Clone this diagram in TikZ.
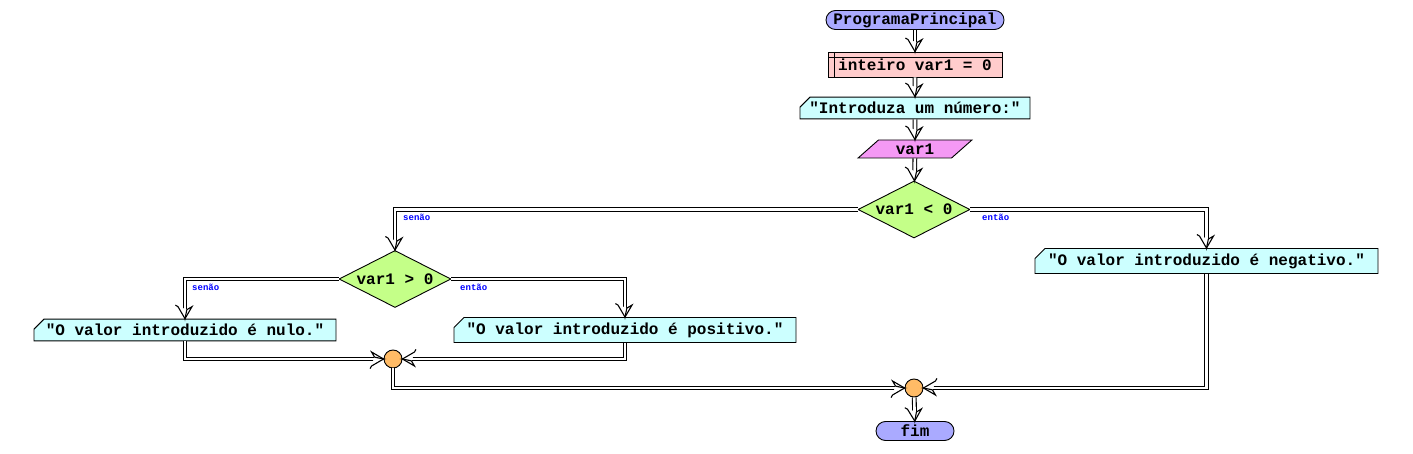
\documentclass[tikz,border=0pt]{standalone}
\usepackage{fontspec}
\setmonofont{Liberation Mono}
\usetikzlibrary{shapes.geometric,shapes.misc,decorations.markings}

\definecolor{termfill}{HTML}{AAAAFF}
\definecolor{declfill}{HTML}{FFCCCC}
\definecolor{outfill}{HTML}{CCFFFF}
\definecolor{infill}{HTML}{F599F5}
\definecolor{condfill}{HTML}{C4FF88}
\definecolor{juncfill}{HTML}{FFBB66}

\tikzset{
  base/.style={draw, line width=0.9pt, font=\ttfamily\bfseries\fontsize{16}{18}\selectfont, inner sep=0pt, minimum height=19pt},
  term/.style={base, rectangle, rounded corners=9.5pt, fill=termfill},
  decl/.style={base, rectangle, fill=declfill, minimum width=174pt, minimum height=25pt,
    text height=15pt, text depth=3pt,
    path picture={
      \draw ([yshift=-5pt]path picture bounding box.north west) -- ([yshift=-5pt]path picture bounding box.north east);
      \draw ([xshift=6pt]path picture bounding box.north west) -- ([xshift=6pt]path picture bounding box.south west);
    }},
  outbox/.style={base, chamfered rectangle, chamfered rectangle corners=north west,
    chamfered rectangle xsep=5pt, chamfered rectangle ysep=5pt, fill=outfill, minimum height=18pt},
  inbox/.style={base, trapezium, trapezium left angle=45, trapezium right angle=135,
    trapezium stretches=true, fill=infill, minimum width=114pt, minimum height=18pt},
  cond/.style={base, diamond, aspect=2, fill=condfill, minimum width=112pt, minimum height=57pt},
  junc/.style={draw, line width=0.9pt, circle, fill=juncfill, minimum size=18pt, inner sep=0pt},
  lbl/.style={font=\ttfamily\bfseries\fontsize{9}{10}\selectfont, text=blue, inner sep=0pt, anchor=north west},
  flow/.style={double, double distance=2.6pt, line width=1.1pt, shorten >=9pt,
    postaction={decorate, decoration={markings, mark=at position 1 with {
      \draw[line width=1.1pt, fill=white] (-9pt,1.85pt) -- (-12pt,7pt) -- (0pt,0pt) -- (-12pt,-7pt) -- (-9pt,-1.85pt);
      \draw[line width=1.1pt] (-9pt,1.85pt) -- (0pt,0pt) -- (-9pt,-1.85pt);
    }}}},
}

\begin{document}
\begin{tikzpicture}[x=1pt, y=1pt]
\useasboundingbox (0,0) rectangle (1413,-454);
% main chain
\node[term, minimum width=178pt] (start) at (915,-20) {ProgramaPrincipal};
\node[decl] (decl) at (915,-64.5) {inteiro var1 = 0};
\node[outbox, minimum width=230pt] (ask) at (915,-108) {"Introduza um número:"};
\node[inbox] (read) at (915,-149) {var1};
\node[cond] (test1) at (914,-209.5) {var1 < 0};
% branches
\node[cond] (test2) at (395,-279) {var1 > 0};
\node[outbox, minimum width=343pt] (neg) at (1206.5,-261) {"O valor introduzido é negativo."};
\node[outbox, minimum width=302pt] (zero) at (185,-330) {"O valor introduzido é nulo."};
\node[outbox, minimum width=342pt] (pos) at (625,-330) {"O valor introduzido é positivo."};
\node[junc] (join1) at (393,-359) {};
\node[junc] (join2) at (914,-388) {};
\node[term, minimum width=78pt] (stop) at (915,-431) {fim};
% labels
\node[lbl] (no1) at (403,-214) {senão};
\node[lbl] (yes1) at (982,-214) {então};
\node[lbl] (no2) at (192,-284) {senão};
\node[lbl] (yes2) at (460,-284) {então};
% connectors
\draw[flow] (start) -- (decl);
\draw[flow] (decl) -- (ask);
\draw[flow] (ask) -- (read);
\draw[flow] (read) -- (test1);
\draw[flow] (test1.west) -| (test2.north);
\draw[flow] (test1.east) -| (neg.north);
\draw[flow] (test2.west) -| (zero.north);
\draw[flow] (test2.east) -| (pos.north);
\draw[flow] (zero.south) |- (join1.west);
\draw[flow] (pos.south) |- (join1.east);
\draw[flow] (join1.south) |- (join2.west);
\draw[flow] (neg.south) |- (join2.east);
\draw[flow] (join2) -- (stop);
\end{tikzpicture}
\end{document}
